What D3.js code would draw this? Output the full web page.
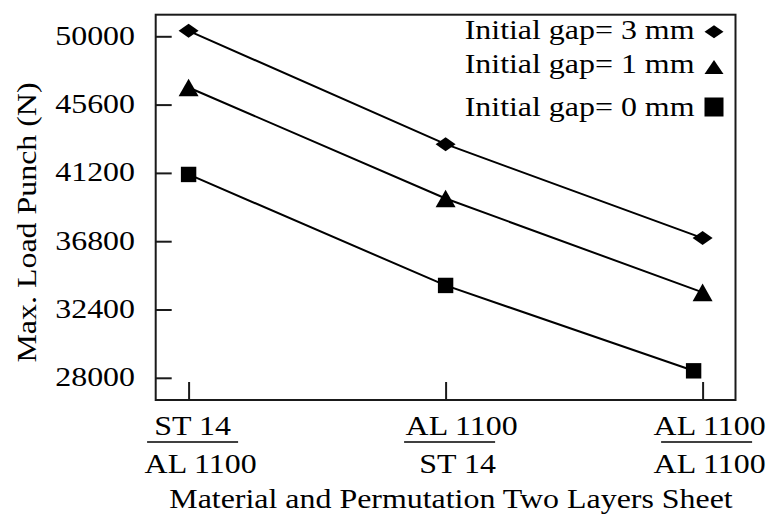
<!DOCTYPE html>
<html><head><meta charset="utf-8">
<script src="https://cdn.jsdelivr.net/npm/d3@7"></script>
<style>body{margin:0;background:#fff}svg{display:block}text{font-family:"Liberation Serif","Times New Roman",serif;fill:#000}</style>
</head><body><svg id="c" width="777" height="516"></svg>
<script>
// ---- data ----
const categoryNumerators = ["ST 14", "AL 1100", "AL 1100"];
const categoryDenominators = ["AL 1100", "ST 14", "AL 1100"];
const seriesNames = ["Initial gap= 3 mm", "Initial gap= 1 mm", "Initial gap= 0 mm"];
const gap3mm = [50350, 43050, 37000];
const gap1mm = [46700, 39550, 33500];
const gap0mm = [41100, 33950, 28450];
const gap3mmX = [0, 1, 2];
const gap1mmX = [0, 1, 2];
const gap0mmX = [0, 1, 1.965];
const yTicks = [28000, 32400, 36800, 41200, 45600, 50000];
const yLabel = "Max. Load Punch (N)";
const xLabel = "Material and Permutation Two Layers Sheet";

// ---- layout ----
const svg = d3.select("#c");
const L = 155.7, R = 735.5, T = 14.7, B = 400;
const SX = 1.14, FS = 28;
const x = d3.scaleLinear().domain([-0.128, 2.128]).range([L, R]);
const y = d3.scaleLinear().domain([26570, 51391]).range([B, T]);

// frame
svg.append("rect").attr("x", L).attr("y", T).attr("width", R - L).attr("height", B - T)
  .attr("fill", "none").attr("stroke", "#1a1a1a").attr("stroke-width", 2);

// y ticks (inward)
const yAxis = d3.axisLeft(y).tickValues(yTicks).tickSize(-16).tickFormat("");
const gy = svg.append("g").attr("transform", `translate(${L},0)`).call(yAxis);
gy.select(".domain").remove();
gy.selectAll("line").attr("stroke", "#1a1a1a").attr("stroke-width", 2);
svg.selectAll(".ylab").data(yTicks).join("text").attr("class", "ylab")
  .attr("transform", d => `translate(135,${y(d) + 8.5}) scale(${SX},1)`)
  .attr("text-anchor", "end").attr("font-size", FS).text(d => d);

// x ticks (inward)
const xAxis = d3.axisBottom(x).tickValues([0, 1, 2]).tickSize(-18).tickFormat("");
const gx = svg.append("g").attr("transform", `translate(0,${B})`).call(xAxis);
gx.select(".domain").remove();
gx.selectAll("line").attr("stroke", "#1a1a1a").attr("stroke-width", 2);

// category labels as fractions
const numDx = [4, 16, 7], denDx = [12, 12, 7];
categoryNumerators.forEach((n, i) => {
  const cx = x(i);
  svg.append("text").attr("transform", `translate(${cx + numDx[i]},434.5) scale(${SX},1)`)
    .attr("text-anchor", "middle").attr("font-size", FS).text(n);
  svg.append("line").attr("x1", cx - 41.5).attr("x2", cx + 49.5).attr("y1", 442).attr("y2", 442)
    .attr("stroke", "#000").attr("stroke-width", 1.6);
  svg.append("text").attr("transform", `translate(${cx + denDx[i]},473) scale(${SX},1)`)
    .attr("text-anchor", "middle").attr("font-size", FS).text(categoryDenominators[i]);
});

// axis titles
svg.append("text").attr("transform", `translate(451,507.5) scale(${SX},1)`)
  .attr("text-anchor", "middle").attr("font-size", FS).text(xLabel);
svg.append("text").attr("transform", `translate(36,222.5) rotate(-90) scale(${SX},1)`)
  .attr("text-anchor", "middle").attr("font-size", FS).text(yLabel);

// series
const series = [
  {name: seriesNames[0], vals: gap3mm, xs: gap3mmX, shape: "diamond"},
  {name: seriesNames[1], vals: gap1mm, xs: gap1mmX, shape: "triangle"},
  {name: seriesNames[2], vals: gap0mm, xs: gap0mmX, shape: "square"}
];
function marker(g, shape, cx, cy, big) {
  if (shape === "diamond") {
    const w = big ? 9.5 : 10, h = big ? 6.5 : 7;
    g.append("path").attr("d", `M${cx - w},${cy}L${cx},${cy - h}L${cx + w},${cy}L${cx},${cy + h}Z`).attr("fill", "#000");
  } else if (shape === "triangle") {
    const w = big ? 9.5 : 10, h = big ? 7 : 8.8;
    g.append("path").attr("d", `M${cx},${cy - h}L${cx + w},${cy + h}L${cx - w},${cy + h}Z`).attr("fill", "#000");
  } else {
    const s = big ? 9.5 : 7.7;
    g.append("rect").attr("x", cx - s).attr("y", cy - s).attr("width", 2 * s).attr("height", 2 * s).attr("fill", "#000");
  }
}
const line = d3.line().x(d => x(d[0])).y(d => y(d[1]));
series.forEach(s => {
  const pts = s.vals.map((v, i) => [s.xs[i], v]);
  svg.append("path").attr("d", line(pts)).attr("fill", "none").attr("stroke", "#000").attr("stroke-width", 2);
  const g = svg.append("g");
  pts.forEach(p => marker(g, s.shape, x(p[0]), y(p[1]), false));
});

// legend
const legY = [39, 73, 116], legMY = [31.7, 67, 107];
series.forEach((s, i) => {
  svg.append("text").attr("transform", `translate(694.5,${legY[i]}) scale(${SX},1)`)
    .attr("text-anchor", "end").attr("font-size", FS).text(s.name);
  marker(svg, s.shape, 714, legMY[i], true);
});
</script></body></html>
